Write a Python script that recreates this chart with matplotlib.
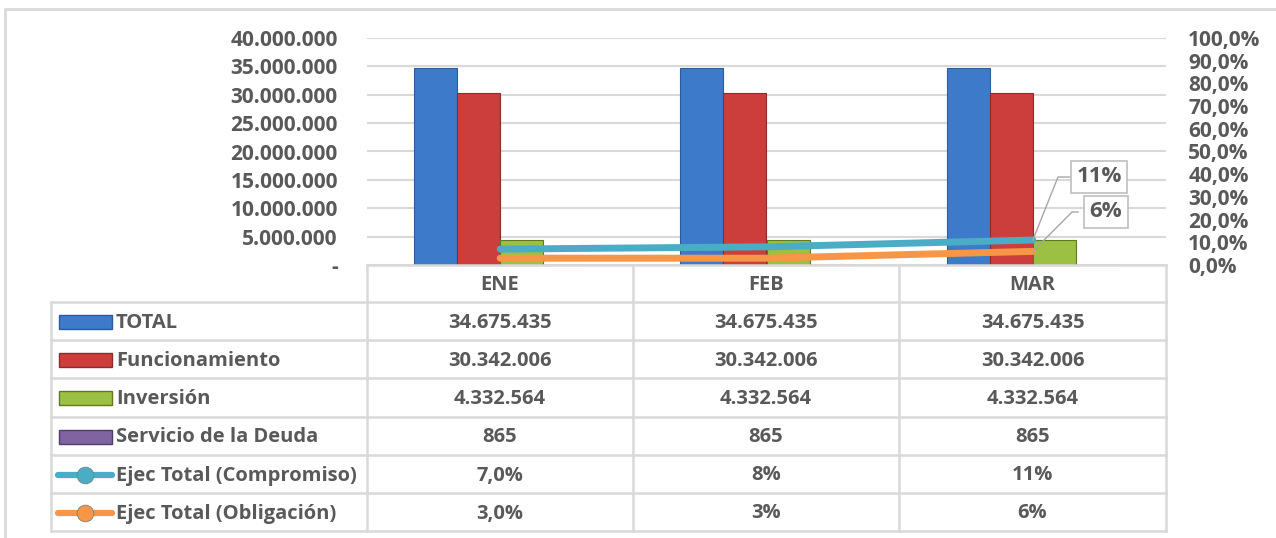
import numpy as np
import matplotlib.pyplot as plt
from matplotlib.lines import Line2D
from matplotlib.patches import Rectangle

plt.rcParams['font.family'] = ['Open Sans', 'DejaVu Sans']
plt.rcParams['font.weight'] = 'bold'

months = ['ENE', 'FEB', 'MAR']
total = [34675435, 34675435, 34675435]
funcionamiento = [30342006, 30342006, 30342006]
inversion = [4332564, 4332564, 4332564]
servicio_deuda = [865, 865, 865]
ejec_compromiso = [0.07, 0.08, 0.11]
ejec_obligacion = [0.03, 0.03, 0.06]
# decimals shown in the data table for the percentage rows
comp_dec = [1, 0, 0]
oblig_dec = [1, 0, 0]

bar_names = ['TOTAL', 'Funcionamiento', 'Inversión', 'Servicio de la Deuda']
bar_colors = ['#3D7BCA', '#CB3E3C', '#9BC043', '#8064A2']
bar_edges = ['#2B5C99', '#8E2A29', '#5E7A1E', '#4F3A6E']
line_names = ['Ejec Total (Compromiso)', 'Ejec Total (Obligación)']
line_colors = ['#4BACC6', '#F79646']

TXT = '#595959'
GRID = '#D9D9D9'
FS = 14.5
TFS = 15
W, H = 1276, 538

fig = plt.figure(figsize=(W / 100, H / 100), dpi=100)


def fx(x):
    return x / W


def fy(y):
    return 1 - y / H


def fmt_num(v):
    return f'{v:,.0f}'.replace(',', '.')


def fmt_pct(v, d):
    return f'{v * 100:.{d}f}%'.replace('.', ',')


# plot area
L, R, T, B = 367, 1166, 38, 265
ax = fig.add_axes([fx(L), fy(B), fx(R - L), (B - T) / H])
ax2 = ax.twinx()

x = np.arange(len(months))
bw = 0.162
series = [total, funcionamiento, inversion, servicio_deuda]
for i, vals in enumerate(series):
    ax.bar(x + (i - 1.5) * bw, vals, bw, color=bar_colors[i],
           edgecolor=bar_edges[i], linewidth=0.8, zorder=3)

ax.set_xlim(-0.5, 2.5)
ax.set_ylim(0, 40000000)
yt = np.arange(0, 40000001, 5000000)
ax.set_yticks(yt)
ax.set_yticklabels(['-' if v == 0 else fmt_num(v) for v in yt], fontweight='bold')
ax.set_xticks([])
ax.grid(axis='y', color=GRID, linewidth=1.5, zorder=0)
ax.set_axisbelow(True)
ax.tick_params(axis='y', length=0, pad=21, labelsize=TFS, labelcolor=TXT)
for s in ax.spines.values():
    s.set_visible(False)

ax2.plot(x, ejec_compromiso, color=line_colors[0], linewidth=5,
         solid_capstyle='round', zorder=4)
ax2.plot(x, ejec_obligacion, color=line_colors[1], linewidth=5,
         solid_capstyle='round', zorder=4)
ax2.set_ylim(0, 1)
pt = np.arange(0, 1.01, 0.1)
ax2.set_yticks(pt)
ax2.set_yticklabels([fmt_pct(v, 1) for v in pt], fontweight='bold')
ax2.tick_params(axis='y', length=0, pad=16, labelsize=TFS, labelcolor=TXT)
for s in ax2.spines.values():
    s.set_visible(False)

# data labels for the last point with leader lines
lab_boxes = [(1099, 177, 1058), (1106, 212, 1072)]
for vals, (bx, by, kx) in zip([ejec_compromiso, ejec_obligacion], lab_boxes):
    px, py = ax2.transData.transform((x[-1], vals[-1]))
    fig.add_artist(Line2D([px / W, fx(kx), fx(bx - 28)],
                          [py / H, fy(by), fy(by)],
                          color='#A6A6A6', linewidth=1,
                          transform=fig.transFigure))
    fig.text(fx(bx), fy(by), fmt_pct(vals[-1], 0), ha='center', va='center',
             fontsize=16, color=TXT, fontweight='bold',
             bbox=dict(boxstyle='square,pad=0.25', fc='white', ec='#BFBFBF', lw=1.2))

# outer chart frame
fig.add_artist(Rectangle((fx(5), fy(560)), fx(1300), (560 - 9) / H, fill=False,
                         ec=GRID, lw=2, transform=fig.transFigure))

# data table
rows_y = [265, 302, 340, 378, 417, 455, 493, 531]
cols_x = [51, 367, 633, 899, 1166]


def hline(y, x0, x1):
    fig.add_artist(Line2D([fx(x0), fx(x1)], [fy(y), fy(y)], color=GRID, lw=1.8,
                          transform=fig.transFigure))


def vline(x0, y0, y1):
    fig.add_artist(Line2D([fx(x0), fx(x0)], [fy(y0), fy(y1)], color=GRID, lw=1.8,
                          transform=fig.transFigure))


hline(rows_y[0], cols_x[1], cols_x[-1])
for y in rows_y[1:]:
    hline(y, cols_x[0], cols_x[-1])
vline(cols_x[0], rows_y[1], rows_y[-1])
for c in cols_x[1:]:
    vline(c, rows_y[0], rows_y[-1])

col_centers = [(cols_x[i] + cols_x[i + 1]) / 2 for i in range(1, 4)]
row_centers = [(rows_y[i] + rows_y[i + 1]) / 2 + 1.5 for i in range(len(rows_y) - 1)]
for c, m in zip(col_centers, months):
    fig.text(fx(c), fy(row_centers[0]), m, ha='center', va='center',
             fontsize=FS, color=TXT, fontweight='bold')

table_rows = [[fmt_num(v) for v in s] for s in series]
table_rows.append([fmt_pct(v, d) for v, d in zip(ejec_compromiso, comp_dec)])
table_rows.append([fmt_pct(v, d) for v, d in zip(ejec_obligacion, oblig_dec)])
names = bar_names + line_names

for r, (name, cells) in enumerate(zip(names, table_rows)):
    yc = row_centers[r + 1]
    fig.text(fx(116), fy(yc), name, ha='left', va='center', fontsize=FS,
             color=TXT, fontweight='bold')
    for c, s in zip(col_centers, cells):
        fig.text(fx(c), fy(yc), s, ha='center', va='center', fontsize=FS,
                 color=TXT, fontweight='bold')
    if r < 4:
        fig.add_artist(Rectangle((fx(59), fy(yc + 6)), fx(53), 14 / H,
                                 fc=bar_colors[r], ec=bar_edges[r], lw=1,
                                 transform=fig.transFigure))
    else:
        col = line_colors[r - 4]
        fig.add_artist(Line2D([fx(58), fx(112)], [fy(yc - 1), fy(yc - 1)], color=col,
                              lw=4.5, solid_capstyle='round',
                              transform=fig.transFigure))
        fig.add_artist(Line2D([fx(85)], [fy(yc - 1)], marker='o', markersize=12,
                              color=col, markeredgecolor='#7F7F7F', markeredgewidth=0.6,
                              transform=fig.transFigure))

fig.savefig('out.png', dpi=100)
